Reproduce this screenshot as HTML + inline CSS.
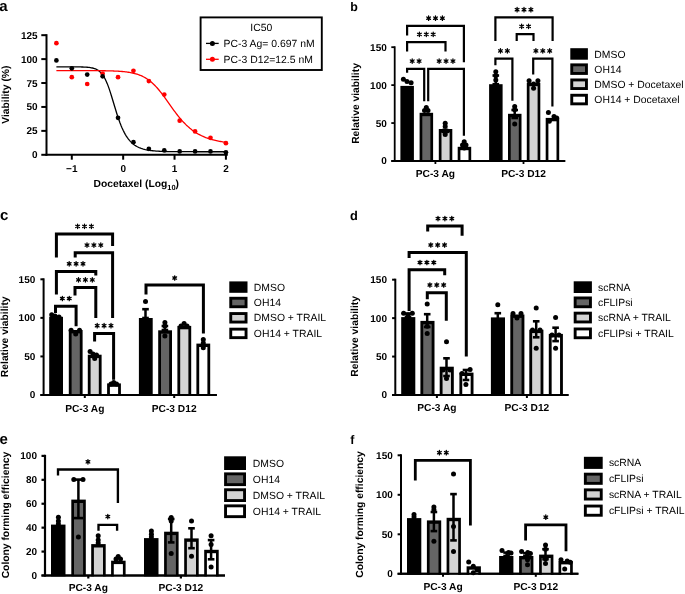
<!DOCTYPE html>
<html><head><meta charset="utf-8"><style>
html,body{margin:0;padding:0;background:#fff;}
body{width:685px;height:594px;overflow:hidden;}
svg{display:block;font-family:"Liberation Sans", sans-serif;text-rendering:geometricPrecision;will-change:transform;}
</style></head><body>
<svg width="685" height="594" viewBox="0 0 685 594" font-family='"Liberation Sans", sans-serif'>
<rect width="685" height="594" fill="#fff"/>
<text x="-0.8" y="10.8" font-size="15" font-weight="bold" text-anchor="start">a</text>
<line x1="46.5" y1="34.18" x2="46.5" y2="155.8" stroke="#000" stroke-width="2" stroke-linecap="butt"/>
<line x1="41.3" y1="154.8" x2="46.5" y2="154.8" stroke="#000" stroke-width="2" stroke-linecap="butt"/>
<text x="37.6" y="158.29" font-size="10" font-weight="bold" text-anchor="end">0</text>
<line x1="41.3" y1="130.88" x2="46.5" y2="130.88" stroke="#000" stroke-width="2" stroke-linecap="butt"/>
<text x="37.6" y="134.36" font-size="10" font-weight="bold" text-anchor="end">25</text>
<line x1="41.3" y1="106.95" x2="46.5" y2="106.95" stroke="#000" stroke-width="2" stroke-linecap="butt"/>
<text x="37.6" y="110.44" font-size="10" font-weight="bold" text-anchor="end">50</text>
<line x1="41.3" y1="83.03" x2="46.5" y2="83.03" stroke="#000" stroke-width="2" stroke-linecap="butt"/>
<text x="37.6" y="86.51" font-size="10" font-weight="bold" text-anchor="end">75</text>
<line x1="41.3" y1="59.1" x2="46.5" y2="59.1" stroke="#000" stroke-width="2" stroke-linecap="butt"/>
<text x="37.6" y="62.59" font-size="10" font-weight="bold" text-anchor="end">100</text>
<line x1="41.3" y1="35.18" x2="46.5" y2="35.18" stroke="#000" stroke-width="2" stroke-linecap="butt"/>
<text x="37.6" y="38.66" font-size="10" font-weight="bold" text-anchor="end">125</text>
<line x1="45.5" y1="154.8" x2="227.8" y2="154.8" stroke="#000" stroke-width="2" stroke-linecap="butt"/>
<line x1="71.8" y1="154.8" x2="71.8" y2="159.7" stroke="#000" stroke-width="2" stroke-linecap="butt"/>
<text x="71.8" y="172.19" font-size="10" font-weight="bold" text-anchor="middle">−1</text>
<line x1="123.17" y1="154.8" x2="123.17" y2="159.7" stroke="#000" stroke-width="2" stroke-linecap="butt"/>
<text x="123.17" y="172.19" font-size="10" font-weight="bold" text-anchor="middle">0</text>
<line x1="174.54" y1="154.8" x2="174.54" y2="159.7" stroke="#000" stroke-width="2" stroke-linecap="butt"/>
<text x="174.54" y="172.19" font-size="10" font-weight="bold" text-anchor="middle">1</text>
<line x1="225.91" y1="154.8" x2="225.91" y2="159.7" stroke="#000" stroke-width="2" stroke-linecap="butt"/>
<text x="225.91" y="172.19" font-size="10" font-weight="bold" text-anchor="middle">2</text>
<text x="136.2" y="187.24" font-size="10.3" font-weight="bold" text-anchor="middle">Docetaxel (Log<tspan font-size="7.4" dy="2.6">10</tspan><tspan dy="-2.6">)</tspan></text>
<text transform="translate(5.6,94.7) rotate(-90)" x="0" y="3.54" font-size="10.3" font-weight="bold" text-anchor="middle">Viability (%)</text>
<polyline points="56.39,66.85 57.45,66.85 58.51,66.85 59.57,66.85 60.63,66.85 61.69,66.85 62.75,66.85 63.81,66.86 64.87,66.86 65.92,66.86 66.98,66.86 68.04,66.86 69.1,66.86 70.16,66.86 71.22,66.87 72.28,66.87 73.34,66.88 74.4,66.88 75.46,66.89 76.52,66.9 77.58,66.91 78.64,66.92 79.7,66.94 80.76,66.96 81.82,66.99 82.88,67.02 83.94,67.06 85,67.11 86.06,67.17 87.11,67.25 88.17,67.34 89.23,67.45 90.29,67.6 91.35,67.77 92.41,67.99 93.47,68.25 94.53,68.58 95.59,68.98 96.65,69.46 97.71,70.05 98.77,70.77 99.83,71.63 100.89,72.66 101.95,73.88 103.01,75.32 104.07,77 105.13,78.94 106.19,81.16 107.25,83.64 108.3,86.39 109.36,89.39 110.42,92.6 111.48,95.97 112.54,99.46 113.6,103.01 114.66,106.56 115.72,110.06 116.78,113.46 117.84,116.72 118.9,119.82 119.96,122.74 121.02,125.45 122.08,127.97 123.14,130.28 124.2,132.4 125.26,134.33 126.32,136.09 127.38,137.68 128.44,139.12 129.49,140.42 130.55,141.59 131.61,142.64 132.67,143.58 133.73,144.43 134.79,145.2 135.85,145.88 136.91,146.49 137.97,147.04 139.03,147.53 140.09,147.97 141.15,148.37 142.21,148.72 143.27,149.04 144.33,149.32 145.39,149.58 146.45,149.8 147.51,150.01 148.57,150.19 149.63,150.35 150.69,150.5 151.74,150.63 152.8,150.74 153.86,150.85 154.92,150.94 155.98,151.03 157.04,151.1 158.1,151.17 159.16,151.23 160.22,151.28 161.28,151.33 162.34,151.37 163.4,151.41 164.46,151.44 165.52,151.48 166.58,151.5 167.64,151.53 168.7,151.55 169.76,151.57 170.82,151.59 171.88,151.6 172.93,151.62 173.99,151.63 175.05,151.64 176.11,151.65 177.17,151.66 178.23,151.67 179.29,151.68 180.35,151.68 181.41,151.69 182.47,151.69 183.53,151.7 184.59,151.7 185.65,151.71 186.71,151.71 187.77,151.71 188.83,151.71 189.89,151.72 190.95,151.72 192.01,151.72 193.07,151.72 194.12,151.72 195.18,151.73 196.24,151.73 197.3,151.73 198.36,151.73 199.42,151.73 200.48,151.73 201.54,151.73 202.6,151.73 203.66,151.73 204.72,151.73 205.78,151.73 206.84,151.73 207.9,151.73 208.96,151.73 210.02,151.74 211.08,151.74 212.14,151.74 213.2,151.74 214.26,151.74 215.31,151.74 216.37,151.74 217.43,151.74 218.49,151.74 219.55,151.74 220.61,151.74 221.67,151.74 222.73,151.74 223.79,151.74 224.85,151.74 225.91,151.74" fill="none" stroke="#000" stroke-width="1.3" stroke-linejoin="round"/>
<polyline points="56.39,70.56 57.45,70.56 58.51,70.56 59.57,70.56 60.63,70.56 61.69,70.56 62.75,70.56 63.81,70.56 64.87,70.56 65.92,70.56 66.98,70.56 68.04,70.56 69.1,70.56 70.16,70.56 71.22,70.56 72.28,70.56 73.34,70.57 74.4,70.57 75.46,70.57 76.52,70.57 77.58,70.57 78.64,70.57 79.7,70.57 80.76,70.58 81.82,70.58 82.88,70.58 83.94,70.58 85,70.59 86.06,70.59 87.11,70.59 88.17,70.6 89.23,70.6 90.29,70.61 91.35,70.61 92.41,70.62 93.47,70.62 94.53,70.63 95.59,70.64 96.65,70.65 97.71,70.66 98.77,70.67 99.83,70.68 100.89,70.69 101.95,70.71 103.01,70.72 104.07,70.74 105.13,70.76 106.19,70.78 107.25,70.8 108.3,70.83 109.36,70.85 110.42,70.88 111.48,70.92 112.54,70.95 113.6,71 114.66,71.04 115.72,71.09 116.78,71.14 117.84,71.2 118.9,71.27 119.96,71.34 121.02,71.42 122.08,71.51 123.14,71.61 124.2,71.71 125.26,71.83 126.32,71.96 127.38,72.1 128.44,72.25 129.49,72.42 130.55,72.61 131.61,72.81 132.67,73.03 133.73,73.28 134.79,73.54 135.85,73.83 136.91,74.15 137.97,74.49 139.03,74.86 140.09,75.27 141.15,75.71 142.21,76.19 143.27,76.71 144.33,77.27 145.39,77.87 146.45,78.51 147.51,79.21 148.57,79.95 149.63,80.75 150.69,81.59 151.74,82.49 152.8,83.45 153.86,84.45 154.92,85.51 155.98,86.63 157.04,87.79 158.1,89 159.16,90.27 160.22,91.57 161.28,92.92 162.34,94.3 163.4,95.71 164.46,97.16 165.52,98.62 166.58,100.1 167.64,101.6 168.7,103.1 169.76,104.6 170.82,106.1 171.88,107.59 172.93,109.06 173.99,110.51 175.05,111.95 176.11,113.35 177.17,114.73 178.23,116.07 179.29,117.38 180.35,118.65 181.41,119.88 182.47,121.07 183.53,122.22 184.59,123.32 185.65,124.39 186.71,125.41 187.77,126.39 188.83,127.33 189.89,128.23 190.95,129.09 192.01,129.91 193.07,130.69 194.12,131.43 195.18,132.14 196.24,132.82 197.3,133.46 198.36,134.07 199.42,134.64 200.48,135.19 201.54,135.71 202.6,136.21 203.66,136.67 204.72,137.12 205.78,137.54 206.84,137.93 207.9,138.31 208.96,138.67 210.02,139 211.08,139.32 212.14,139.62 213.2,139.91 214.26,140.18 215.31,140.43 216.37,140.67 217.43,140.9 218.49,141.11 219.55,141.32 220.61,141.51 221.67,141.69 222.73,141.86 223.79,142.02 224.85,142.17 225.91,142.32" fill="none" stroke="#f00" stroke-width="1.3" stroke-linejoin="round"/>
<circle cx="56.39" cy="43.2" r="2.35" fill="#f00"/>
<circle cx="71.8" cy="77.2" r="2.35" fill="#f00"/>
<circle cx="87.21" cy="84" r="2.35" fill="#f00"/>
<circle cx="102.62" cy="73.5" r="2.35" fill="#f00"/>
<circle cx="118.03" cy="77.2" r="2.35" fill="#f00"/>
<circle cx="133.44" cy="70.8" r="2.35" fill="#f00"/>
<circle cx="148.85" cy="81.1" r="2.35" fill="#f00"/>
<circle cx="164.27" cy="94.6" r="2.35" fill="#f00"/>
<circle cx="179.68" cy="120.7" r="2.35" fill="#f00"/>
<circle cx="195.09" cy="131.4" r="2.35" fill="#f00"/>
<circle cx="210.5" cy="137.8" r="2.35" fill="#f00"/>
<circle cx="225.91" cy="143.2" r="2.35" fill="#f00"/>
<circle cx="56.39" cy="60.4" r="2.35" fill="#000"/>
<circle cx="71.8" cy="68.3" r="2.35" fill="#000"/>
<circle cx="87.21" cy="74.6" r="2.35" fill="#000"/>
<circle cx="102.62" cy="76.3" r="2.35" fill="#000"/>
<circle cx="118.03" cy="117.8" r="2.35" fill="#000"/>
<circle cx="133.44" cy="142.2" r="2.35" fill="#000"/>
<circle cx="148.85" cy="148.8" r="2.35" fill="#000"/>
<circle cx="164.27" cy="150.4" r="2.35" fill="#000"/>
<circle cx="179.68" cy="151.4" r="2.35" fill="#000"/>
<circle cx="195.09" cy="151.4" r="2.35" fill="#000"/>
<circle cx="210.5" cy="151.4" r="2.35" fill="#000"/>
<circle cx="225.91" cy="152.3" r="2.35" fill="#000"/>
<rect x="200.6" y="17.4" width="121.2" height="52.6" fill="none" stroke="#000" stroke-width="1.9"/>
<text x="261.3" y="30.68" font-size="10.4" font-weight="normal" text-anchor="middle">IC50</text>
<line x1="206" y1="43.4" x2="218.7" y2="43.4" stroke="#000" stroke-width="1.3" stroke-linecap="butt"/>
<circle cx="212.4" cy="43.4" r="2.5" fill="#000"/>
<text x="223.6" y="46.98" font-size="10.4" font-weight="normal" text-anchor="start">PC-3 Ag= 0.697 nM</text>
<line x1="206" y1="59.3" x2="218.7" y2="59.3" stroke="#f00" stroke-width="1.3" stroke-linecap="butt"/>
<circle cx="212.4" cy="59.3" r="2.5" fill="#f00"/>
<text x="223.6" y="62.88" font-size="10.4" font-weight="normal" text-anchor="start">PC-3 D12=12.5 nM</text>
<line x1="394.7" y1="46.29" x2="394.7" y2="161.9" stroke="#000" stroke-width="1.8" stroke-linecap="butt"/>
<line x1="391.3" y1="161" x2="394.7" y2="161" stroke="#000" stroke-width="1.8" stroke-linecap="butt"/>
<text x="386.8" y="164.49" font-size="10" font-weight="bold" text-anchor="end">0</text>
<line x1="391.3" y1="123.06" x2="394.7" y2="123.06" stroke="#000" stroke-width="1.8" stroke-linecap="butt"/>
<text x="386.8" y="126.55" font-size="10" font-weight="bold" text-anchor="end">50</text>
<line x1="391.3" y1="85.13" x2="394.7" y2="85.13" stroke="#000" stroke-width="1.8" stroke-linecap="butt"/>
<text x="386.8" y="88.61" font-size="10" font-weight="bold" text-anchor="end">100</text>
<line x1="391.3" y1="47.19" x2="394.7" y2="47.19" stroke="#000" stroke-width="1.8" stroke-linecap="butt"/>
<text x="386.8" y="50.68" font-size="10" font-weight="bold" text-anchor="end">150</text>
<line x1="394.7" y1="161" x2="565.2" y2="161" stroke="#000" stroke-width="1.8" stroke-linecap="butt"/>
<line x1="435.4" y1="161" x2="435.4" y2="164" stroke="#000" stroke-width="1.8" stroke-linecap="butt"/>
<text x="435.4" y="176.61" font-size="10.2" font-weight="bold" text-anchor="middle">PC-3 Ag</text>
<line x1="523.5" y1="161" x2="523.5" y2="164" stroke="#000" stroke-width="1.8" stroke-linecap="butt"/>
<text x="523.5" y="176.61" font-size="10.2" font-weight="bold" text-anchor="middle">PC-3 D12</text>
<text transform="translate(355.4,103.5) rotate(-90)" x="0" y="3.54" font-size="10.3" font-weight="bold" text-anchor="middle">Relative viability</text>
<rect x="400.4" y="85.9" width="13.5" height="75.95" fill="#000"/>
<rect x="419.6" y="112.8" width="13.5" height="49.05" fill="#000"/>
<rect x="422.3" y="116.2" width="8.1" height="45.65" fill="#656565"/>
<rect x="438.8" y="129" width="13.5" height="32.85" fill="#000"/>
<rect x="441.5" y="132.4" width="8.1" height="29.45" fill="#d3d3d3"/>
<rect x="457.7" y="146.8" width="13.5" height="15.05" fill="#000"/>
<rect x="460.4" y="150.2" width="8.1" height="11.65" fill="#fff"/>
<rect x="489.1" y="84.2" width="13.5" height="77.65" fill="#000"/>
<rect x="508" y="113.8" width="13.5" height="48.05" fill="#000"/>
<rect x="510.7" y="117.2" width="8.1" height="44.65" fill="#656565"/>
<rect x="526.8" y="82.8" width="13.5" height="79.05" fill="#000"/>
<rect x="529.5" y="86.2" width="8.1" height="75.65" fill="#d3d3d3"/>
<rect x="545.7" y="117.9" width="13.5" height="43.95" fill="#000"/>
<rect x="548.4" y="121.3" width="8.1" height="40.55" fill="#fff"/>
<line x1="391.3" y1="161" x2="565.2" y2="161" stroke="#000" stroke-width="1.8" stroke-linecap="butt"/>
<line x1="495.8" y1="75.5" x2="495.8" y2="84.2" stroke="#000" stroke-width="2.5" stroke-linecap="butt"/>
<line x1="492.5" y1="75.5" x2="499.1" y2="75.5" stroke="#000" stroke-width="2.6" stroke-linecap="butt"/>
<line x1="492.5" y1="84.2" x2="499.1" y2="84.2" stroke="#000" stroke-width="2.6" stroke-linecap="butt"/>
<line x1="514.7" y1="110" x2="514.7" y2="118" stroke="#000" stroke-width="2.5" stroke-linecap="butt"/>
<line x1="511.4" y1="110" x2="518" y2="110" stroke="#000" stroke-width="2.6" stroke-linecap="butt"/>
<line x1="511.4" y1="118" x2="518" y2="118" stroke="#000" stroke-width="2.6" stroke-linecap="butt"/>
<circle cx="403.4" cy="79.2" r="2.5" fill="#000"/>
<circle cx="407" cy="81.4" r="2.5" fill="#000"/>
<circle cx="411.1" cy="82.8" r="2.5" fill="#000"/>
<circle cx="426.3" cy="107.6" r="2.5" fill="#000"/>
<circle cx="424.5" cy="110.5" r="2.5" fill="#000"/>
<circle cx="428" cy="110.5" r="2.5" fill="#000"/>
<circle cx="445.2" cy="123.2" r="2.5" fill="#000"/>
<circle cx="445.2" cy="126.5" r="2.5" fill="#000"/>
<circle cx="443.5" cy="131" r="2.5" fill="#000"/>
<circle cx="447" cy="131" r="2.5" fill="#000"/>
<circle cx="445.2" cy="134.5" r="2.5" fill="#000"/>
<circle cx="464.2" cy="141.8" r="2.5" fill="#000"/>
<circle cx="462.5" cy="145" r="2.5" fill="#000"/>
<circle cx="466" cy="145" r="2.5" fill="#000"/>
<circle cx="464.2" cy="148" r="2.5" fill="#000"/>
<circle cx="495.8" cy="71.7" r="2.5" fill="#000"/>
<circle cx="495.8" cy="75.7" r="2.5" fill="#000"/>
<circle cx="495.8" cy="80.1" r="2.5" fill="#000"/>
<circle cx="514.7" cy="106.4" r="2.5" fill="#000"/>
<circle cx="514.7" cy="109.8" r="2.5" fill="#000"/>
<circle cx="514.7" cy="123.9" r="2.5" fill="#000"/>
<circle cx="529.1" cy="80.8" r="2.5" fill="#000"/>
<circle cx="537.9" cy="80.8" r="2.5" fill="#000"/>
<circle cx="533.6" cy="88.2" r="2.5" fill="#000"/>
<circle cx="533.6" cy="84" r="2.5" fill="#000"/>
<circle cx="548.4" cy="112.5" r="2.5" fill="#000"/>
<circle cx="554" cy="116.5" r="2.5" fill="#000"/>
<circle cx="556.7" cy="117.9" r="2.5" fill="#000"/>
<circle cx="549.3" cy="121.2" r="2.5" fill="#000"/>
<path d="M407.1 72.7V68.8H424.2V101.2" stroke="#000" stroke-width="2.2" fill="none" stroke-linejoin="miter" stroke-linecap="butt"/>
<path d="M412.2 63.3L412.2 58.9M410.33 62.27L414.07 59.93M414.07 62.27L410.33 59.93" stroke="#000" stroke-width="1.3" stroke-linecap="round" fill="none"/>
<path d="M419.1 63.3L419.1 58.9M417.23 62.27L420.97 59.93M420.97 62.27L417.23 59.93" stroke="#000" stroke-width="1.3" stroke-linecap="round" fill="none"/>
<path d="M428.2 101.2V68.8H463.9V135.8" stroke="#000" stroke-width="2.2" fill="none" stroke-linejoin="miter" stroke-linecap="butt"/>
<path d="M439.15 63.3L439.15 58.9M437.28 62.27L441.02 59.93M441.02 62.27L437.28 59.93" stroke="#000" stroke-width="1.3" stroke-linecap="round" fill="none"/>
<path d="M446.05 63.3L446.05 58.9M444.18 62.27L447.92 59.93M447.92 62.27L444.18 59.93" stroke="#000" stroke-width="1.3" stroke-linecap="round" fill="none"/>
<path d="M452.95 63.3L452.95 58.9M451.08 62.27L454.82 59.93M454.82 62.27L451.08 59.93" stroke="#000" stroke-width="1.3" stroke-linecap="round" fill="none"/>
<path d="M407.1 51.4V42.1H445.5V51.4" stroke="#000" stroke-width="2.2" fill="none" stroke-linejoin="miter" stroke-linecap="butt"/>
<path d="M419.4 36.6L419.4 32.2M417.53 35.57L421.27 33.23M421.27 35.57L417.53 33.23" stroke="#000" stroke-width="1.3" stroke-linecap="round" fill="none"/>
<path d="M426.3 36.6L426.3 32.2M424.43 35.57L428.17 33.23M428.17 35.57L424.43 33.23" stroke="#000" stroke-width="1.3" stroke-linecap="round" fill="none"/>
<path d="M433.2 36.6L433.2 32.2M431.33 35.57L435.07 33.23M435.07 35.57L431.33 33.23" stroke="#000" stroke-width="1.3" stroke-linecap="round" fill="none"/>
<path d="M407.1 35.6V25.9H463.9V62.2" stroke="#000" stroke-width="2.2" fill="none" stroke-linejoin="miter" stroke-linecap="butt"/>
<path d="M428.6 20.4L428.6 16M426.73 19.37L430.47 17.03M430.47 19.37L426.73 17.03" stroke="#000" stroke-width="1.3" stroke-linecap="round" fill="none"/>
<path d="M435.5 20.4L435.5 16M433.63 19.37L437.37 17.03M437.37 19.37L433.63 17.03" stroke="#000" stroke-width="1.3" stroke-linecap="round" fill="none"/>
<path d="M442.4 20.4L442.4 16M440.53 19.37L444.27 17.03M444.27 19.37L440.53 17.03" stroke="#000" stroke-width="1.3" stroke-linecap="round" fill="none"/>
<path d="M495.4 40.9V17.4H552.6V40.9" stroke="#000" stroke-width="2.2" fill="none" stroke-linejoin="miter" stroke-linecap="butt"/>
<path d="M517.1 11.9L517.1 7.5M515.23 10.87L518.97 8.53M518.97 10.87L515.23 8.53" stroke="#000" stroke-width="1.3" stroke-linecap="round" fill="none"/>
<path d="M524 11.9L524 7.5M522.13 10.87L525.87 8.53M525.87 10.87L522.13 8.53" stroke="#000" stroke-width="1.3" stroke-linecap="round" fill="none"/>
<path d="M530.9 11.9L530.9 7.5M529.03 10.87L532.77 8.53M532.77 10.87L529.03 8.53" stroke="#000" stroke-width="1.3" stroke-linecap="round" fill="none"/>
<path d="M516.7 40.9V34.1H533.5V40.9" stroke="#000" stroke-width="2.2" fill="none" stroke-linejoin="miter" stroke-linecap="butt"/>
<path d="M521.65 28.6L521.65 24.2M519.78 27.57L523.52 25.23M523.52 27.57L519.78 25.23" stroke="#000" stroke-width="1.3" stroke-linecap="round" fill="none"/>
<path d="M528.55 28.6L528.55 24.2M526.68 27.57L530.42 25.23M530.42 27.57L526.68 25.23" stroke="#000" stroke-width="1.3" stroke-linecap="round" fill="none"/>
<path d="M495.4 65.3V58.6H512.4V100.8" stroke="#000" stroke-width="2.2" fill="none" stroke-linejoin="miter" stroke-linecap="butt"/>
<path d="M500.45 53.1L500.45 48.7M498.58 52.07L502.32 49.73M502.32 52.07L498.58 49.73" stroke="#000" stroke-width="1.3" stroke-linecap="round" fill="none"/>
<path d="M507.35 53.1L507.35 48.7M505.48 52.07L509.22 49.73M509.22 52.07L505.48 49.73" stroke="#000" stroke-width="1.3" stroke-linecap="round" fill="none"/>
<path d="M533.2 74.6V58.6H552.4V106.6" stroke="#000" stroke-width="2.2" fill="none" stroke-linejoin="miter" stroke-linecap="butt"/>
<path d="M535.9 53.1L535.9 48.7M534.03 52.07L537.77 49.73M537.77 52.07L534.03 49.73" stroke="#000" stroke-width="1.3" stroke-linecap="round" fill="none"/>
<path d="M542.8 53.1L542.8 48.7M540.93 52.07L544.67 49.73M544.67 52.07L540.93 49.73" stroke="#000" stroke-width="1.3" stroke-linecap="round" fill="none"/>
<path d="M549.7 53.1L549.7 48.7M547.83 52.07L551.57 49.73M551.57 52.07L547.83 49.73" stroke="#000" stroke-width="1.3" stroke-linecap="round" fill="none"/>
<rect x="570.3" y="48.2" width="17.6" height="11.5" fill="#000"/>
<text x="594.3" y="57.53" font-size="10.4" font-weight="normal" text-anchor="start">DMSO</text>
<rect x="570.3" y="63.4" width="17.6" height="11.5" fill="#000"/>
<rect x="573.2" y="66.3" width="11.8" height="5.7" fill="#656565"/>
<text x="594.3" y="72.73" font-size="10.4" font-weight="normal" text-anchor="start">OH14</text>
<rect x="570.3" y="78.5" width="17.6" height="11.5" fill="#000"/>
<rect x="573.2" y="81.4" width="11.8" height="5.7" fill="#d3d3d3"/>
<text x="594.3" y="87.83" font-size="10.4" font-weight="normal" text-anchor="start">DMSO + Docetaxel</text>
<rect x="570.3" y="93.8" width="17.6" height="11.5" fill="#000"/>
<rect x="573.2" y="96.7" width="11.8" height="5.7" fill="#fff"/>
<text x="594.3" y="103.13" font-size="10.4" font-weight="normal" text-anchor="start">OH14 + Docetaxel</text>
<text x="350.2" y="11.2" font-size="12.4" font-weight="bold" text-anchor="start">b</text>
<line x1="43.6" y1="278.31" x2="43.6" y2="396" stroke="#000" stroke-width="2" stroke-linecap="butt"/>
<line x1="40.4" y1="395" x2="43.6" y2="395" stroke="#000" stroke-width="2" stroke-linecap="butt"/>
<text x="35.3" y="398.49" font-size="10" font-weight="bold" text-anchor="end">0</text>
<line x1="40.4" y1="356.44" x2="43.6" y2="356.44" stroke="#000" stroke-width="2" stroke-linecap="butt"/>
<text x="35.3" y="359.92" font-size="10" font-weight="bold" text-anchor="end">50</text>
<line x1="40.4" y1="317.87" x2="43.6" y2="317.87" stroke="#000" stroke-width="2" stroke-linecap="butt"/>
<text x="35.3" y="321.36" font-size="10" font-weight="bold" text-anchor="end">100</text>
<line x1="40.4" y1="279.31" x2="43.6" y2="279.31" stroke="#000" stroke-width="2" stroke-linecap="butt"/>
<text x="35.3" y="282.79" font-size="10" font-weight="bold" text-anchor="end">150</text>
<line x1="43.6" y1="395" x2="216.8" y2="395" stroke="#000" stroke-width="2" stroke-linecap="butt"/>
<line x1="84.8" y1="395" x2="84.8" y2="398" stroke="#000" stroke-width="2" stroke-linecap="butt"/>
<text x="84.8" y="411.51" font-size="10.2" font-weight="bold" text-anchor="middle">PC-3 Ag</text>
<line x1="174.2" y1="395" x2="174.2" y2="398" stroke="#000" stroke-width="2" stroke-linecap="butt"/>
<text x="174.2" y="411.51" font-size="10.2" font-weight="bold" text-anchor="middle">PC-3 D12</text>
<text transform="translate(4.9,336.8) rotate(-90)" x="0" y="3.54" font-size="10.3" font-weight="bold" text-anchor="middle">Relative viability</text>
<rect x="49.2" y="316.8" width="13.8" height="79.05" fill="#000"/>
<rect x="68.8" y="330" width="13.8" height="65.85" fill="#000"/>
<rect x="71.6" y="333.4" width="8.2" height="62.45" fill="#656565"/>
<rect x="87.8" y="354.7" width="13.8" height="41.15" fill="#000"/>
<rect x="90.6" y="358.1" width="8.2" height="37.75" fill="#d3d3d3"/>
<rect x="107.1" y="383.4" width="13.8" height="12.45" fill="#000"/>
<rect x="109.9" y="386.8" width="8.2" height="9.05" fill="#fff"/>
<rect x="138.9" y="318" width="13.8" height="77.85" fill="#000"/>
<rect x="158.2" y="330.3" width="13.8" height="65.55" fill="#000"/>
<rect x="161" y="333.7" width="8.2" height="62.15" fill="#656565"/>
<rect x="177.4" y="325.9" width="13.8" height="69.95" fill="#000"/>
<rect x="180.2" y="329.3" width="8.2" height="66.55" fill="#d3d3d3"/>
<rect x="196.4" y="343.6" width="13.8" height="52.25" fill="#000"/>
<rect x="199.2" y="347" width="8.2" height="48.85" fill="#fff"/>
<line x1="40.4" y1="395" x2="216.8" y2="395" stroke="#000" stroke-width="2" stroke-linecap="butt"/>
<line x1="145.5" y1="309.2" x2="145.5" y2="318" stroke="#000" stroke-width="2.5" stroke-linecap="butt"/>
<line x1="142.2" y1="309.2" x2="148.8" y2="309.2" stroke="#000" stroke-width="2.6" stroke-linecap="butt"/>
<line x1="142.2" y1="318" x2="148.8" y2="318" stroke="#000" stroke-width="2.6" stroke-linecap="butt"/>
<line x1="164.9" y1="326" x2="164.9" y2="330" stroke="#000" stroke-width="2.5" stroke-linecap="butt"/>
<line x1="161.6" y1="326" x2="168.2" y2="326" stroke="#000" stroke-width="2.6" stroke-linecap="butt"/>
<line x1="161.6" y1="330" x2="168.2" y2="330" stroke="#000" stroke-width="2.6" stroke-linecap="butt"/>
<circle cx="51.7" cy="314.8" r="2.5" fill="#000"/>
<circle cx="55" cy="316" r="2.5" fill="#000"/>
<circle cx="59" cy="317" r="2.5" fill="#000"/>
<circle cx="71.1" cy="330.2" r="2.5" fill="#000"/>
<circle cx="79.5" cy="330.2" r="2.5" fill="#000"/>
<circle cx="75.7" cy="334" r="2.5" fill="#000"/>
<circle cx="90.1" cy="351.4" r="2.5" fill="#000"/>
<circle cx="93" cy="354" r="2.5" fill="#000"/>
<circle cx="96.5" cy="355" r="2.5" fill="#000"/>
<circle cx="94.7" cy="358.5" r="2.5" fill="#000"/>
<circle cx="113.7" cy="382.5" r="2.5" fill="#000"/>
<circle cx="111" cy="384" r="2.5" fill="#000"/>
<circle cx="116.5" cy="384" r="2.5" fill="#000"/>
<circle cx="145.5" cy="301.4" r="2.5" fill="#000"/>
<circle cx="164.9" cy="322.4" r="2.5" fill="#000"/>
<circle cx="164.9" cy="326" r="2.5" fill="#000"/>
<circle cx="164.9" cy="336" r="2.5" fill="#000"/>
<circle cx="184.1" cy="323.6" r="2.5" fill="#000"/>
<circle cx="181" cy="326" r="2.5" fill="#000"/>
<circle cx="187" cy="326" r="2.5" fill="#000"/>
<circle cx="203.3" cy="339.5" r="2.5" fill="#000"/>
<circle cx="203.3" cy="343" r="2.5" fill="#000"/>
<circle cx="203.3" cy="347.7" r="2.5" fill="#000"/>
<path d="M56.4 257.5V234.1H112.6V246.1" stroke="#000" stroke-width="3" fill="none" stroke-linejoin="miter" stroke-linecap="butt"/>
<path d="M77.6 228.6L77.6 224.2M75.73 227.57L79.47 225.23M79.47 227.57L75.73 225.23" stroke="#000" stroke-width="1.3" stroke-linecap="round" fill="none"/>
<path d="M84.5 228.6L84.5 224.2M82.63 227.57L86.37 225.23M86.37 227.57L82.63 225.23" stroke="#000" stroke-width="1.3" stroke-linecap="round" fill="none"/>
<path d="M91.4 228.6L91.4 224.2M89.53 227.57L93.27 225.23M93.27 227.57L89.53 225.23" stroke="#000" stroke-width="1.3" stroke-linecap="round" fill="none"/>
<path d="M75.2 257.5V252.8H112.6V318.1" stroke="#000" stroke-width="3" fill="none" stroke-linejoin="miter" stroke-linecap="butt"/>
<path d="M87 247.3L87 242.9M85.13 246.27L88.87 243.93M88.87 246.27L85.13 243.93" stroke="#000" stroke-width="1.3" stroke-linecap="round" fill="none"/>
<path d="M93.9 247.3L93.9 242.9M92.03 246.27L95.77 243.93M95.77 246.27L92.03 243.93" stroke="#000" stroke-width="1.3" stroke-linecap="round" fill="none"/>
<path d="M100.8 247.3L100.8 242.9M98.93 246.27L102.67 243.93M102.67 246.27L98.93 243.93" stroke="#000" stroke-width="1.3" stroke-linecap="round" fill="none"/>
<path d="M56.4 294.5V271.5H95.8V275.5" stroke="#000" stroke-width="3" fill="none" stroke-linejoin="miter" stroke-linecap="butt"/>
<path d="M69.2 266L69.2 261.6M67.33 264.97L71.07 262.63M71.07 264.97L67.33 262.63" stroke="#000" stroke-width="1.3" stroke-linecap="round" fill="none"/>
<path d="M76.1 266L76.1 261.6M74.23 264.97L77.97 262.63M77.97 264.97L74.23 262.63" stroke="#000" stroke-width="1.3" stroke-linecap="round" fill="none"/>
<path d="M83 266L83 261.6M81.13 264.97L84.87 262.63M84.87 264.97L81.13 262.63" stroke="#000" stroke-width="1.3" stroke-linecap="round" fill="none"/>
<path d="M75 295.4V287.6H95.8V318.1" stroke="#000" stroke-width="3" fill="none" stroke-linejoin="miter" stroke-linecap="butt"/>
<path d="M78.5 282.1L78.5 277.7M76.63 281.07L80.37 278.73M80.37 281.07L76.63 278.73" stroke="#000" stroke-width="1.3" stroke-linecap="round" fill="none"/>
<path d="M85.4 282.1L85.4 277.7M83.53 281.07L87.27 278.73M87.27 281.07L83.53 278.73" stroke="#000" stroke-width="1.3" stroke-linecap="round" fill="none"/>
<path d="M92.3 282.1L92.3 277.7M90.43 281.07L94.17 278.73M94.17 281.07L90.43 278.73" stroke="#000" stroke-width="1.3" stroke-linecap="round" fill="none"/>
<path d="M55.5 313.1V306.2H76.1V326.2" stroke="#000" stroke-width="3" fill="none" stroke-linejoin="miter" stroke-linecap="butt"/>
<path d="M62.35 300.7L62.35 296.3M60.48 299.67L64.22 297.33M64.22 299.67L60.48 297.33" stroke="#000" stroke-width="1.3" stroke-linecap="round" fill="none"/>
<path d="M69.25 300.7L69.25 296.3M67.38 299.67L71.12 297.33M71.12 299.67L67.38 297.33" stroke="#000" stroke-width="1.3" stroke-linecap="round" fill="none"/>
<path d="M94.6 341.4V333.4H113.6V379.7" stroke="#000" stroke-width="3" fill="none" stroke-linejoin="miter" stroke-linecap="butt"/>
<path d="M97.2 327.9L97.2 323.5M95.33 326.87L99.07 324.53M99.07 326.87L95.33 324.53" stroke="#000" stroke-width="1.3" stroke-linecap="round" fill="none"/>
<path d="M104.1 327.9L104.1 323.5M102.23 326.87L105.97 324.53M105.97 326.87L102.23 324.53" stroke="#000" stroke-width="1.3" stroke-linecap="round" fill="none"/>
<path d="M111 327.9L111 323.5M109.13 326.87L112.87 324.53M112.87 326.87L109.13 324.53" stroke="#000" stroke-width="1.3" stroke-linecap="round" fill="none"/>
<path d="M146 294.5V284.9H203.4V333.4" stroke="#000" stroke-width="3" fill="none" stroke-linejoin="miter" stroke-linecap="butt"/>
<path d="M174.7 280.2L174.7 275.8M172.83 279.17L176.57 276.83M176.57 279.17L172.83 276.83" stroke="#000" stroke-width="1.3" stroke-linecap="round" fill="none"/>
<rect x="229.3" y="281.4" width="18.2" height="11.4" fill="#000"/>
<text x="253.8" y="290.68" font-size="10.4" font-weight="normal" text-anchor="start">DMSO</text>
<rect x="229.3" y="296.8" width="18.2" height="11.4" fill="#000"/>
<rect x="232.2" y="299.7" width="12.4" height="5.6" fill="#656565"/>
<text x="253.8" y="306.08" font-size="10.4" font-weight="normal" text-anchor="start">OH14</text>
<rect x="229.3" y="312.1" width="18.2" height="11.4" fill="#000"/>
<rect x="232.2" y="315" width="12.4" height="5.6" fill="#d3d3d3"/>
<text x="253.8" y="321.38" font-size="10.4" font-weight="normal" text-anchor="start">DMSO + TRAIL</text>
<rect x="229.3" y="327.7" width="18.2" height="11.4" fill="#000"/>
<rect x="232.2" y="330.6" width="12.4" height="5.6" fill="#fff"/>
<text x="253.8" y="336.98" font-size="10.4" font-weight="normal" text-anchor="start">OH14 + TRAIL</text>
<text x="0.1" y="220.4" font-size="15" font-weight="bold" text-anchor="start">c</text>
<line x1="395.3" y1="278.69" x2="395.3" y2="396" stroke="#000" stroke-width="2" stroke-linecap="butt"/>
<line x1="392.1" y1="395" x2="395.3" y2="395" stroke="#000" stroke-width="2" stroke-linecap="butt"/>
<text x="387" y="398.49" font-size="10" font-weight="bold" text-anchor="end">0</text>
<line x1="392.1" y1="356.56" x2="395.3" y2="356.56" stroke="#000" stroke-width="2" stroke-linecap="butt"/>
<text x="387" y="360.05" font-size="10" font-weight="bold" text-anchor="end">50</text>
<line x1="392.1" y1="318.13" x2="395.3" y2="318.13" stroke="#000" stroke-width="2" stroke-linecap="butt"/>
<text x="387" y="321.62" font-size="10" font-weight="bold" text-anchor="end">100</text>
<line x1="392.1" y1="279.69" x2="395.3" y2="279.69" stroke="#000" stroke-width="2" stroke-linecap="butt"/>
<text x="387" y="283.18" font-size="10" font-weight="bold" text-anchor="end">150</text>
<line x1="395.3" y1="395" x2="568.5" y2="395" stroke="#000" stroke-width="2" stroke-linecap="butt"/>
<line x1="436.9" y1="395" x2="436.9" y2="398" stroke="#000" stroke-width="2" stroke-linecap="butt"/>
<text x="436.9" y="411.01" font-size="10.2" font-weight="bold" text-anchor="middle">PC-3 Ag</text>
<line x1="526.9" y1="395" x2="526.9" y2="398" stroke="#000" stroke-width="2" stroke-linecap="butt"/>
<text x="526.9" y="411.01" font-size="10.2" font-weight="bold" text-anchor="middle">PC-3 D12</text>
<text transform="translate(354.8,336.4) rotate(-90)" x="0" y="3.54" font-size="10.3" font-weight="bold" text-anchor="middle">Relative viability</text>
<rect x="401.2" y="317.1" width="14.1" height="78.75" fill="#000"/>
<rect x="420.4" y="320.9" width="14.1" height="74.95" fill="#000"/>
<rect x="423.25" y="324.3" width="8.4" height="71.55" fill="#656565"/>
<rect x="439.7" y="366.7" width="14.1" height="29.15" fill="#000"/>
<rect x="442.55" y="370.1" width="8.4" height="25.75" fill="#d3d3d3"/>
<rect x="459.4" y="372.6" width="14.1" height="23.25" fill="#000"/>
<rect x="462.25" y="376" width="8.4" height="19.85" fill="#fff"/>
<rect x="490.9" y="317.4" width="14.1" height="78.45" fill="#000"/>
<rect x="510.3" y="314.5" width="14.1" height="81.35" fill="#000"/>
<rect x="513.15" y="317.9" width="8.4" height="77.95" fill="#656565"/>
<rect x="529.3" y="329.7" width="14.1" height="66.15" fill="#000"/>
<rect x="532.15" y="333.1" width="8.4" height="62.75" fill="#d3d3d3"/>
<rect x="548.8" y="333.9" width="14.1" height="61.95" fill="#000"/>
<rect x="551.65" y="337.3" width="8.4" height="58.55" fill="#fff"/>
<line x1="392.1" y1="395" x2="568.5" y2="395" stroke="#000" stroke-width="2" stroke-linecap="butt"/>
<line x1="408" y1="313.5" x2="408" y2="317" stroke="#000" stroke-width="2.5" stroke-linecap="butt"/>
<line x1="404.7" y1="313.5" x2="411.3" y2="313.5" stroke="#000" stroke-width="2.6" stroke-linecap="butt"/>
<line x1="404.7" y1="317" x2="411.3" y2="317" stroke="#000" stroke-width="2.6" stroke-linecap="butt"/>
<line x1="427.2" y1="314.2" x2="427.2" y2="327" stroke="#000" stroke-width="2.5" stroke-linecap="butt"/>
<line x1="423.9" y1="314.2" x2="430.5" y2="314.2" stroke="#000" stroke-width="2.6" stroke-linecap="butt"/>
<line x1="423.9" y1="327" x2="430.5" y2="327" stroke="#000" stroke-width="2.6" stroke-linecap="butt"/>
<line x1="446.5" y1="358.3" x2="446.5" y2="376" stroke="#000" stroke-width="2.5" stroke-linecap="butt"/>
<line x1="443.2" y1="358.3" x2="449.8" y2="358.3" stroke="#000" stroke-width="2.6" stroke-linecap="butt"/>
<line x1="443.2" y1="376" x2="449.8" y2="376" stroke="#000" stroke-width="2.6" stroke-linecap="butt"/>
<line x1="466" y1="370" x2="466" y2="380" stroke="#000" stroke-width="2.5" stroke-linecap="butt"/>
<line x1="462.7" y1="370" x2="469.3" y2="370" stroke="#000" stroke-width="2.6" stroke-linecap="butt"/>
<line x1="462.7" y1="380" x2="469.3" y2="380" stroke="#000" stroke-width="2.6" stroke-linecap="butt"/>
<line x1="497.8" y1="313.2" x2="497.8" y2="322" stroke="#000" stroke-width="2.5" stroke-linecap="butt"/>
<line x1="494.5" y1="313.2" x2="501.1" y2="313.2" stroke="#000" stroke-width="2.6" stroke-linecap="butt"/>
<line x1="494.5" y1="322" x2="501.1" y2="322" stroke="#000" stroke-width="2.6" stroke-linecap="butt"/>
<line x1="536.2" y1="321.3" x2="536.2" y2="337.3" stroke="#000" stroke-width="2.5" stroke-linecap="butt"/>
<line x1="532.9" y1="321.3" x2="539.5" y2="321.3" stroke="#000" stroke-width="2.6" stroke-linecap="butt"/>
<line x1="532.9" y1="337.3" x2="539.5" y2="337.3" stroke="#000" stroke-width="2.6" stroke-linecap="butt"/>
<line x1="555.6" y1="327.7" x2="555.6" y2="341.1" stroke="#000" stroke-width="2.5" stroke-linecap="butt"/>
<line x1="552.3" y1="327.7" x2="558.9" y2="327.7" stroke="#000" stroke-width="2.6" stroke-linecap="butt"/>
<line x1="552.3" y1="341.1" x2="558.9" y2="341.1" stroke="#000" stroke-width="2.6" stroke-linecap="butt"/>
<circle cx="403.6" cy="313.2" r="2.5" fill="#000"/>
<circle cx="412.3" cy="313.2" r="2.5" fill="#000"/>
<circle cx="408" cy="315" r="2.5" fill="#000"/>
<circle cx="427.2" cy="303.9" r="2.5" fill="#000"/>
<circle cx="427.2" cy="326.3" r="2.5" fill="#000"/>
<circle cx="427.2" cy="333.4" r="2.5" fill="#000"/>
<circle cx="446.5" cy="341.8" r="2.5" fill="#000"/>
<circle cx="443" cy="370" r="2.5" fill="#000"/>
<circle cx="450" cy="370" r="2.5" fill="#000"/>
<circle cx="446.5" cy="378.5" r="2.5" fill="#000"/>
<circle cx="470.1" cy="369.6" r="2.5" fill="#000"/>
<circle cx="462" cy="373.5" r="2.5" fill="#000"/>
<circle cx="465.9" cy="384.4" r="2.5" fill="#000"/>
<circle cx="497.8" cy="304.8" r="2.5" fill="#000"/>
<circle cx="513" cy="313.5" r="2.5" fill="#000"/>
<circle cx="521" cy="313.5" r="2.5" fill="#000"/>
<circle cx="517" cy="318" r="2.5" fill="#000"/>
<circle cx="536.2" cy="308.1" r="2.5" fill="#000"/>
<circle cx="536.2" cy="348.2" r="2.5" fill="#000"/>
<circle cx="532.5" cy="330" r="2.5" fill="#000"/>
<circle cx="540" cy="330" r="2.5" fill="#000"/>
<circle cx="555.6" cy="317.4" r="2.5" fill="#000"/>
<circle cx="555.6" cy="348.2" r="2.5" fill="#000"/>
<circle cx="552" cy="335" r="2.5" fill="#000"/>
<circle cx="559" cy="335" r="2.5" fill="#000"/>
<path d="M427.7 231.4V226.1H462.1V235.8" stroke="#000" stroke-width="3" fill="none" stroke-linejoin="miter" stroke-linecap="butt"/>
<path d="M438 220.8L438 216.4M436.13 219.77L439.87 217.43M439.87 219.77L436.13 217.43" stroke="#000" stroke-width="1.3" stroke-linecap="round" fill="none"/>
<path d="M444.9 220.8L444.9 216.4M443.03 219.77L446.77 217.43M446.77 219.77L443.03 217.43" stroke="#000" stroke-width="1.3" stroke-linecap="round" fill="none"/>
<path d="M451.8 220.8L451.8 216.4M449.93 219.77L453.67 217.43M453.67 219.77L449.93 217.43" stroke="#000" stroke-width="1.3" stroke-linecap="round" fill="none"/>
<path d="M409.1 257.9V252.6H466.3V356.4" stroke="#000" stroke-width="3" fill="none" stroke-linejoin="miter" stroke-linecap="butt"/>
<path d="M430.8 247.2L430.8 242.8M428.93 246.17L432.67 243.83M432.67 246.17L428.93 243.83" stroke="#000" stroke-width="1.3" stroke-linecap="round" fill="none"/>
<path d="M437.7 247.2L437.7 242.8M435.83 246.17L439.57 243.83M439.57 246.17L435.83 243.83" stroke="#000" stroke-width="1.3" stroke-linecap="round" fill="none"/>
<path d="M444.6 247.2L444.6 242.8M442.73 246.17L446.47 243.83M446.47 246.17L442.73 243.83" stroke="#000" stroke-width="1.3" stroke-linecap="round" fill="none"/>
<path d="M409.1 310.9V269.8H444.7V275.3" stroke="#000" stroke-width="3" fill="none" stroke-linejoin="miter" stroke-linecap="butt"/>
<path d="M420 264.7L420 260.3M418.13 263.67L421.87 261.33M421.87 263.67L418.13 261.33" stroke="#000" stroke-width="1.3" stroke-linecap="round" fill="none"/>
<path d="M426.9 264.7L426.9 260.3M425.03 263.67L428.77 261.33M428.77 263.67L425.03 261.33" stroke="#000" stroke-width="1.3" stroke-linecap="round" fill="none"/>
<path d="M433.8 264.7L433.8 260.3M431.93 263.67L435.67 261.33M435.67 263.67L431.93 261.33" stroke="#000" stroke-width="1.3" stroke-linecap="round" fill="none"/>
<path d="M427.3 299.2V292.7H446.3V320.7" stroke="#000" stroke-width="3" fill="none" stroke-linejoin="miter" stroke-linecap="butt"/>
<path d="M429.9 287.2L429.9 282.8M428.03 286.17L431.77 283.83M431.77 286.17L428.03 283.83" stroke="#000" stroke-width="1.3" stroke-linecap="round" fill="none"/>
<path d="M436.8 287.2L436.8 282.8M434.93 286.17L438.67 283.83M438.67 286.17L434.93 283.83" stroke="#000" stroke-width="1.3" stroke-linecap="round" fill="none"/>
<path d="M443.7 287.2L443.7 282.8M441.83 286.17L445.57 283.83M445.57 286.17L441.83 283.83" stroke="#000" stroke-width="1.3" stroke-linecap="round" fill="none"/>
<rect x="573.7" y="281.3" width="18.2" height="11.7" fill="#000"/>
<text x="598" y="290.73" font-size="10.4" font-weight="normal" text-anchor="start">scRNA</text>
<rect x="573.7" y="296.5" width="18.2" height="11.7" fill="#000"/>
<rect x="576.6" y="299.4" width="12.4" height="5.9" fill="#656565"/>
<text x="598" y="305.93" font-size="10.4" font-weight="normal" text-anchor="start">cFLIPsi</text>
<rect x="573.7" y="311.7" width="18.2" height="11.7" fill="#000"/>
<rect x="576.6" y="314.6" width="12.4" height="5.9" fill="#d3d3d3"/>
<text x="598" y="321.13" font-size="10.4" font-weight="normal" text-anchor="start">scRNA + TRAIL</text>
<rect x="573.7" y="327.5" width="18.2" height="11.7" fill="#000"/>
<rect x="576.6" y="330.4" width="12.4" height="5.9" fill="#fff"/>
<text x="598" y="336.93" font-size="10.4" font-weight="normal" text-anchor="start">cFLIPsi + TRAIL</text>
<text x="350" y="219.8" font-size="12.8" font-weight="bold" text-anchor="start">d</text>
<line x1="45" y1="454.8" x2="45" y2="576.6" stroke="#000" stroke-width="2.2" stroke-linecap="butt"/>
<line x1="41.5" y1="575.5" x2="45" y2="575.5" stroke="#000" stroke-width="2.2" stroke-linecap="butt"/>
<text x="37" y="578.99" font-size="10" font-weight="bold" text-anchor="end">0</text>
<line x1="41.5" y1="551.58" x2="45" y2="551.58" stroke="#000" stroke-width="2.2" stroke-linecap="butt"/>
<text x="37" y="555.07" font-size="10" font-weight="bold" text-anchor="end">20</text>
<line x1="41.5" y1="527.66" x2="45" y2="527.66" stroke="#000" stroke-width="2.2" stroke-linecap="butt"/>
<text x="37" y="531.14" font-size="10" font-weight="bold" text-anchor="end">40</text>
<line x1="41.5" y1="503.74" x2="45" y2="503.74" stroke="#000" stroke-width="2.2" stroke-linecap="butt"/>
<text x="37" y="507.23" font-size="10" font-weight="bold" text-anchor="end">60</text>
<line x1="41.5" y1="479.82" x2="45" y2="479.82" stroke="#000" stroke-width="2.2" stroke-linecap="butt"/>
<text x="37" y="483.31" font-size="10" font-weight="bold" text-anchor="end">80</text>
<line x1="41.5" y1="455.9" x2="45" y2="455.9" stroke="#000" stroke-width="2.2" stroke-linecap="butt"/>
<text x="37" y="459.38" font-size="10" font-weight="bold" text-anchor="end">100</text>
<line x1="45" y1="575.5" x2="225" y2="575.5" stroke="#000" stroke-width="2.2" stroke-linecap="butt"/>
<line x1="88.3" y1="575.5" x2="88.3" y2="578.5" stroke="#000" stroke-width="2.2" stroke-linecap="butt"/>
<text x="88.3" y="591.41" font-size="10.2" font-weight="bold" text-anchor="middle">PC-3 Ag</text>
<line x1="180.9" y1="575.5" x2="180.9" y2="578.5" stroke="#000" stroke-width="2.2" stroke-linecap="butt"/>
<text x="180.9" y="591.41" font-size="10.2" font-weight="bold" text-anchor="middle">PC-3 D12</text>
<text transform="translate(5.6,515.1) rotate(-90)" x="0" y="3.54" font-size="10.3" font-weight="bold" text-anchor="middle">Colony forming efficiency</text>
<rect x="51" y="524.6" width="14.5" height="51.75" fill="#000"/>
<rect x="71.3" y="499.6" width="14.5" height="76.75" fill="#000"/>
<rect x="74" y="503" width="9.1" height="73.35" fill="#656565"/>
<rect x="91.2" y="544.1" width="14.5" height="32.25" fill="#000"/>
<rect x="93.9" y="547.5" width="9.1" height="28.85" fill="#d3d3d3"/>
<rect x="111.1" y="560.7" width="14.5" height="15.65" fill="#000"/>
<rect x="113.8" y="564.1" width="9.1" height="12.25" fill="#fff"/>
<rect x="144" y="538.1" width="14.5" height="38.25" fill="#000"/>
<rect x="164.1" y="531.7" width="14.5" height="44.65" fill="#000"/>
<rect x="166.8" y="535.1" width="9.1" height="41.25" fill="#656565"/>
<rect x="184.2" y="538.4" width="14.5" height="37.95" fill="#000"/>
<rect x="186.9" y="541.8" width="9.1" height="34.55" fill="#d3d3d3"/>
<rect x="204.2" y="549.8" width="14.5" height="26.55" fill="#000"/>
<rect x="206.9" y="553.2" width="9.1" height="23.15" fill="#fff"/>
<line x1="41.5" y1="575.5" x2="225" y2="575.5" stroke="#000" stroke-width="2.2" stroke-linecap="butt"/>
<line x1="78.4" y1="479.6" x2="78.4" y2="518.1" stroke="#000" stroke-width="2.5" stroke-linecap="butt"/>
<line x1="73.8" y1="479.6" x2="83" y2="479.6" stroke="#000" stroke-width="2.6" stroke-linecap="butt"/>
<line x1="73.8" y1="518.1" x2="83" y2="518.1" stroke="#000" stroke-width="2.6" stroke-linecap="butt"/>
<line x1="171.2" y1="519" x2="171.2" y2="542.4" stroke="#000" stroke-width="2.5" stroke-linecap="butt"/>
<line x1="167.9" y1="519" x2="174.5" y2="519" stroke="#000" stroke-width="2.6" stroke-linecap="butt"/>
<line x1="167.9" y1="542.4" x2="174.5" y2="542.4" stroke="#000" stroke-width="2.6" stroke-linecap="butt"/>
<line x1="191.5" y1="528.3" x2="191.5" y2="548.2" stroke="#000" stroke-width="2.5" stroke-linecap="butt"/>
<line x1="188.2" y1="528.3" x2="194.8" y2="528.3" stroke="#000" stroke-width="2.6" stroke-linecap="butt"/>
<line x1="188.2" y1="548.2" x2="194.8" y2="548.2" stroke="#000" stroke-width="2.6" stroke-linecap="butt"/>
<line x1="211.1" y1="540.1" x2="211.1" y2="559.3" stroke="#000" stroke-width="2.5" stroke-linecap="butt"/>
<line x1="207.8" y1="540.1" x2="214.4" y2="540.1" stroke="#000" stroke-width="2.6" stroke-linecap="butt"/>
<line x1="207.8" y1="559.3" x2="214.4" y2="559.3" stroke="#000" stroke-width="2.6" stroke-linecap="butt"/>
<circle cx="58.4" cy="517.2" r="2.5" fill="#000"/>
<circle cx="58.4" cy="520.9" r="2.5" fill="#000"/>
<circle cx="58.4" cy="524" r="2.5" fill="#000"/>
<circle cx="73.8" cy="479.6" r="2.5" fill="#000"/>
<circle cx="83" cy="479.6" r="2.5" fill="#000"/>
<circle cx="78.4" cy="537" r="2.5" fill="#000"/>
<circle cx="98.2" cy="535.7" r="2.5" fill="#000"/>
<circle cx="98.2" cy="540" r="2.5" fill="#000"/>
<circle cx="98.2" cy="543" r="2.5" fill="#000"/>
<circle cx="118.2" cy="556.5" r="2.5" fill="#000"/>
<circle cx="116" cy="559" r="2.5" fill="#000"/>
<circle cx="120.5" cy="559" r="2.5" fill="#000"/>
<circle cx="151.4" cy="531" r="2.5" fill="#000"/>
<circle cx="151.4" cy="534.3" r="2.5" fill="#000"/>
<circle cx="151.4" cy="537" r="2.5" fill="#000"/>
<circle cx="171.2" cy="517.5" r="2.5" fill="#000"/>
<circle cx="171.2" cy="520.9" r="2.5" fill="#000"/>
<circle cx="171.2" cy="553.6" r="2.5" fill="#000"/>
<circle cx="191.5" cy="521.1" r="2.5" fill="#000"/>
<circle cx="191.5" cy="556.3" r="2.5" fill="#000"/>
<circle cx="211.1" cy="535.7" r="2.5" fill="#000"/>
<circle cx="211.1" cy="567.1" r="2.5" fill="#000"/>
<circle cx="211.1" cy="544.5" r="2.5" fill="#000"/>
<path d="M58 475.5V469.5H117.9V503" stroke="#000" stroke-width="2.35" fill="none" stroke-linejoin="miter" stroke-linecap="butt"/>
<path d="M87.95 464L87.95 459.6M86.08 462.97L89.82 460.63M89.82 462.97L86.08 460.63" stroke="#000" stroke-width="1.3" stroke-linecap="round" fill="none"/>
<path d="M98.5 530.7V524.8H117.1V530.7" stroke="#000" stroke-width="2.35" fill="none" stroke-linejoin="miter" stroke-linecap="butt"/>
<path d="M107.8 518.8L107.8 514.4M105.93 517.77L109.67 515.43M109.67 517.77L105.93 515.43" stroke="#000" stroke-width="1.3" stroke-linecap="round" fill="none"/>
<rect x="224.1" y="456.3" width="21.9" height="13.7" fill="#000"/>
<text x="252.8" y="466.73" font-size="10.4" font-weight="normal" text-anchor="start">DMSO</text>
<rect x="224.1" y="472.4" width="21.9" height="13.7" fill="#000"/>
<rect x="227" y="475.3" width="16.1" height="7.9" fill="#656565"/>
<text x="252.8" y="482.83" font-size="10.4" font-weight="normal" text-anchor="start">OH14</text>
<rect x="224.1" y="488.3" width="21.9" height="13.7" fill="#000"/>
<rect x="227" y="491.2" width="16.1" height="7.9" fill="#d3d3d3"/>
<text x="252.8" y="498.73" font-size="10.4" font-weight="normal" text-anchor="start">DMSO + TRAIL</text>
<rect x="224.1" y="504.4" width="21.9" height="13.7" fill="#000"/>
<rect x="227" y="507.3" width="16.1" height="7.9" fill="#fff"/>
<text x="252.8" y="514.83" font-size="10.4" font-weight="normal" text-anchor="start">OH14 + TRAIL</text>
<text x="-0.5" y="443.5" font-size="15" font-weight="bold" text-anchor="start">e</text>
<line x1="401" y1="454.3" x2="401" y2="574.8" stroke="#000" stroke-width="2" stroke-linecap="butt"/>
<line x1="397.6" y1="573.8" x2="401" y2="573.8" stroke="#000" stroke-width="2" stroke-linecap="butt"/>
<text x="392.8" y="577.28" font-size="10" font-weight="bold" text-anchor="end">0</text>
<line x1="397.6" y1="534.3" x2="401" y2="534.3" stroke="#000" stroke-width="2" stroke-linecap="butt"/>
<text x="392.8" y="537.78" font-size="10" font-weight="bold" text-anchor="end">50</text>
<line x1="397.6" y1="494.8" x2="401" y2="494.8" stroke="#000" stroke-width="2" stroke-linecap="butt"/>
<text x="392.8" y="498.28" font-size="10" font-weight="bold" text-anchor="end">100</text>
<line x1="397.6" y1="455.3" x2="401" y2="455.3" stroke="#000" stroke-width="2" stroke-linecap="butt"/>
<text x="392.8" y="458.78" font-size="10" font-weight="bold" text-anchor="end">150</text>
<line x1="401" y1="573.8" x2="578.4" y2="573.8" stroke="#000" stroke-width="2" stroke-linecap="butt"/>
<line x1="443" y1="573.8" x2="443" y2="576.8" stroke="#000" stroke-width="2" stroke-linecap="butt"/>
<text x="443" y="590.21" font-size="10.2" font-weight="bold" text-anchor="middle">PC-3 Ag</text>
<line x1="535.8" y1="573.8" x2="535.8" y2="576.8" stroke="#000" stroke-width="2" stroke-linecap="butt"/>
<text x="535.8" y="590.21" font-size="10.2" font-weight="bold" text-anchor="middle">PC-3 D12</text>
<text transform="translate(359.8,514.5) rotate(-90)" x="0" y="3.54" font-size="10.3" font-weight="bold" text-anchor="middle">Colony forming efficiency</text>
<rect x="407" y="518.1" width="14.3" height="56.55" fill="#000"/>
<rect x="426.9" y="520.4" width="14.3" height="54.25" fill="#000"/>
<rect x="429.6" y="523.8" width="8.9" height="50.85" fill="#656565"/>
<rect x="446.6" y="517.8" width="14.3" height="56.85" fill="#000"/>
<rect x="449.3" y="521.2" width="8.9" height="53.45" fill="#d3d3d3"/>
<rect x="466.6" y="566.3" width="14.3" height="8.35" fill="#000"/>
<rect x="469.3" y="569.7" width="8.9" height="4.95" fill="#fff"/>
<rect x="499.1" y="556" width="14.3" height="18.65" fill="#000"/>
<rect x="519.1" y="556" width="14.3" height="18.65" fill="#000"/>
<rect x="521.8" y="559.4" width="8.9" height="15.25" fill="#656565"/>
<rect x="539.1" y="554.6" width="14.3" height="20.05" fill="#000"/>
<rect x="541.8" y="558" width="8.9" height="16.65" fill="#d3d3d3"/>
<rect x="558.5" y="561" width="14.3" height="13.65" fill="#000"/>
<rect x="561.2" y="564.4" width="8.9" height="10.25" fill="#fff"/>
<line x1="397.6" y1="573.8" x2="578.4" y2="573.8" stroke="#000" stroke-width="2" stroke-linecap="butt"/>
<line x1="433.9" y1="512" x2="433.9" y2="531.1" stroke="#000" stroke-width="2.5" stroke-linecap="butt"/>
<line x1="430.6" y1="512" x2="437.2" y2="512" stroke="#000" stroke-width="2.6" stroke-linecap="butt"/>
<line x1="430.6" y1="531.1" x2="437.2" y2="531.1" stroke="#000" stroke-width="2.6" stroke-linecap="butt"/>
<line x1="453.5" y1="494.1" x2="453.5" y2="540.4" stroke="#000" stroke-width="2.5" stroke-linecap="butt"/>
<line x1="450.2" y1="494.1" x2="456.8" y2="494.1" stroke="#000" stroke-width="2.6" stroke-linecap="butt"/>
<line x1="450.2" y1="540.4" x2="456.8" y2="540.4" stroke="#000" stroke-width="2.6" stroke-linecap="butt"/>
<line x1="545.5" y1="549.2" x2="545.5" y2="559.2" stroke="#000" stroke-width="2.5" stroke-linecap="butt"/>
<line x1="542.2" y1="549.2" x2="548.8" y2="549.2" stroke="#000" stroke-width="2.6" stroke-linecap="butt"/>
<line x1="542.2" y1="559.2" x2="548.8" y2="559.2" stroke="#000" stroke-width="2.6" stroke-linecap="butt"/>
<line x1="506.6" y1="552.6" x2="506.6" y2="556" stroke="#000" stroke-width="2.5" stroke-linecap="butt"/>
<line x1="503.3" y1="552.6" x2="509.9" y2="552.6" stroke="#000" stroke-width="2.6" stroke-linecap="butt"/>
<line x1="503.3" y1="556" x2="509.9" y2="556" stroke="#000" stroke-width="2.6" stroke-linecap="butt"/>
<line x1="526.4" y1="553.2" x2="526.4" y2="556" stroke="#000" stroke-width="2.5" stroke-linecap="butt"/>
<line x1="523.1" y1="553.2" x2="529.7" y2="553.2" stroke="#000" stroke-width="2.6" stroke-linecap="butt"/>
<line x1="523.1" y1="556" x2="529.7" y2="556" stroke="#000" stroke-width="2.6" stroke-linecap="butt"/>
<circle cx="414" cy="514.4" r="2.5" fill="#000"/>
<circle cx="414" cy="517" r="2.5" fill="#000"/>
<circle cx="433.9" cy="507" r="2.5" fill="#000"/>
<circle cx="433.9" cy="509.8" r="2.5" fill="#000"/>
<circle cx="433.9" cy="541.3" r="2.5" fill="#000"/>
<circle cx="453.5" cy="474.1" r="2.5" fill="#000"/>
<circle cx="453.5" cy="526.5" r="2.5" fill="#000"/>
<circle cx="453.5" cy="551.5" r="2.5" fill="#000"/>
<circle cx="468.7" cy="562" r="2.5" fill="#000"/>
<circle cx="473.3" cy="566.3" r="2.5" fill="#000"/>
<circle cx="477" cy="570" r="2.5" fill="#000"/>
<circle cx="473.3" cy="572.8" r="2.5" fill="#000"/>
<circle cx="502" cy="550.6" r="2.5" fill="#000"/>
<circle cx="508.5" cy="552.4" r="2.5" fill="#000"/>
<circle cx="511" cy="553" r="2.5" fill="#000"/>
<circle cx="521.6" cy="551.4" r="2.5" fill="#000"/>
<circle cx="527.8" cy="552.6" r="2.5" fill="#000"/>
<circle cx="530.4" cy="553.4" r="2.5" fill="#000"/>
<circle cx="527.5" cy="559.8" r="2.5" fill="#000"/>
<circle cx="527.5" cy="564.7" r="2.5" fill="#000"/>
<circle cx="545.5" cy="545.1" r="2.5" fill="#000"/>
<circle cx="545.5" cy="549.2" r="2.5" fill="#000"/>
<circle cx="545.5" cy="559" r="2.5" fill="#000"/>
<circle cx="545.5" cy="563.5" r="2.5" fill="#000"/>
<circle cx="561" cy="559.8" r="2.5" fill="#000"/>
<circle cx="567.2" cy="561" r="2.5" fill="#000"/>
<circle cx="570.3" cy="562.3" r="2.5" fill="#000"/>
<circle cx="564.7" cy="569.1" r="2.5" fill="#000"/>
<path d="M415.3 480.4V460.4H470.4V525.6" stroke="#000" stroke-width="2.8" fill="none" stroke-linejoin="miter" stroke-linecap="butt"/>
<path d="M439.4 454.9L439.4 450.5M437.53 453.87L441.27 451.53M441.27 453.87L437.53 451.53" stroke="#000" stroke-width="1.3" stroke-linecap="round" fill="none"/>
<path d="M446.3 454.9L446.3 450.5M444.43 453.87L448.17 451.53M448.17 453.87L444.43 451.53" stroke="#000" stroke-width="1.3" stroke-linecap="round" fill="none"/>
<path d="M525.6 540.5V524.9H566V551.3" stroke="#000" stroke-width="2.8" fill="none" stroke-linejoin="miter" stroke-linecap="butt"/>
<path d="M545.8 519.4L545.8 515M543.93 518.37L547.67 516.03M547.67 518.37L543.93 516.03" stroke="#000" stroke-width="1.3" stroke-linecap="round" fill="none"/>
<rect x="583.9" y="456.8" width="18.8" height="12.1" fill="#000"/>
<text x="608.9" y="466.43" font-size="10.4" font-weight="normal" text-anchor="start">scRNA</text>
<rect x="583.9" y="472.7" width="18.8" height="12.1" fill="#000"/>
<rect x="586.8" y="475.6" width="13" height="6.3" fill="#656565"/>
<text x="608.9" y="482.33" font-size="10.4" font-weight="normal" text-anchor="start">cFLIPsi</text>
<rect x="583.9" y="488.4" width="18.8" height="12.1" fill="#000"/>
<rect x="586.8" y="491.3" width="13" height="6.3" fill="#d3d3d3"/>
<text x="608.9" y="498.03" font-size="10.4" font-weight="normal" text-anchor="start">scRNA + TRAIL</text>
<rect x="583.9" y="504.6" width="18.8" height="12.1" fill="#000"/>
<rect x="586.8" y="507.5" width="13" height="6.3" fill="#fff"/>
<text x="608.9" y="514.23" font-size="10.4" font-weight="normal" text-anchor="start">cFLIPsi + TRAIL</text>
<text x="350.3" y="443.6" font-size="12.4" font-weight="bold" text-anchor="start">f</text>
</svg>
</body></html>
